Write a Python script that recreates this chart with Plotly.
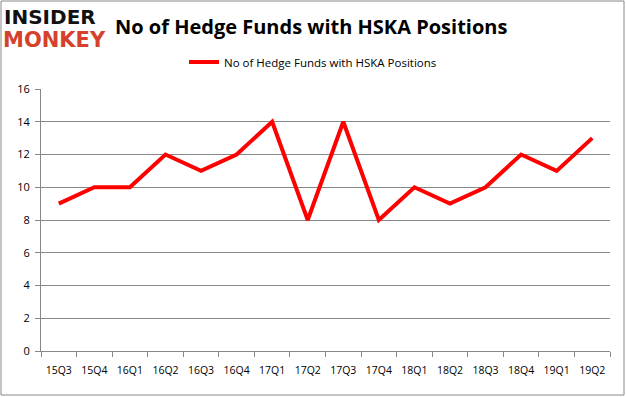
import plotly.graph_objects as go

quarters = ["15Q3", "15Q4", "16Q1", "16Q2", "16Q3", "16Q4", "17Q1", "17Q2",
            "17Q3", "17Q4", "18Q1", "18Q2", "18Q3", "18Q4", "19Q1", "19Q2"]
hedge_funds = [9, 10, 10, 12, 11, 12, 14, 8, 14, 8, 10, 9, 10, 12, 11, 13]
series_name = "No of Hedge Funds with HSKA Positions"
title_text = "No of Hedge Funds with HSKA Positions"

W, H = 626, 397
L, R, T, B = 41, 16, 89, 46
pw, ph = W - L - R, H - T - B

def px_x(x):
    return (x - L) / pw

def px_y(y):
    return (H - B - y) / ph

fig = go.Figure()
fig.add_trace(go.Scatter(
    x=quarters, y=hedge_funds, mode="lines", name=series_name,
    line=dict(color="#ff0000", width=4),
))

fig.update_layout(
    width=W, height=H,
    margin=dict(l=L, r=R, t=T, b=B, autoexpand=False),
    paper_bgcolor="white", plot_bgcolor="white",
    font=dict(family="Open Sans, Liberation Sans, sans-serif", size=11, color="#000"),
    showlegend=True,
    legend=dict(orientation="h", x=px_x(313), xanchor="center", y=px_y(62), yanchor="middle",
                font=dict(size=11.5, color="#000"), bgcolor="rgba(0,0,0,0)"),
    xaxis=dict(
        type="category", showgrid=False, showline=True, linecolor="#888", linewidth=1,
        ticks="outside", tickson="boundaries", ticklen=5, tickcolor="#888",
        tickfont=dict(size=10.5), tickangle=0, range=[-0.5, len(quarters) - 0.5],
        automargin=False, ticklabelstandoff=9,
    ),
    yaxis=dict(
        range=[0, 16], dtick=2, showgrid=True, gridcolor="#888", gridwidth=1,
        showline=True, linecolor="#888", linewidth=1, ticks="outside", ticklen=5,
        tickcolor="#888", tickfont=dict(size=11), zeroline=False, automargin=False,
        ticklabelstandoff=3,
    ),
)

# title
fig.add_annotation(
    x=px_x(113), y=px_y(27), xref="paper", yref="paper", xanchor="left", yanchor="middle",
    text="<b>" + title_text + "</b>", showarrow=False,
    font=dict(family="Open Sans, Liberation Sans, sans-serif", size=20, color="#000"),
)
# logo
fig.add_annotation(
    x=px_x(3), y=px_y(30), xref="paper", yref="paper", xanchor="left", yanchor="bottom",
    text="<b>INSIDER</b>", showarrow=False, borderpad=0,
    font=dict(family="DejaVu Sans", size=20, color="#111"),
)
fig.add_annotation(
    x=px_x(2), y=px_y(27), xref="paper", yref="paper", xanchor="left", yanchor="top",
    text="<b>MONKEY</b>", showarrow=False, borderpad=0,
    font=dict(family="DejaVu Sans", size=21, color="#d5412b"),
)
# outer border
fig.add_shape(type="rect", xref="paper", yref="paper",
              x0=px_x(1), x1=px_x(624), y0=px_y(395), y1=px_y(1),
              line=dict(color="#888", width=1), fillcolor="rgba(0,0,0,0)", layer="below")

fig.write_html("out.html", config={"displayModeBar": False},
               post_script="document.body.style.margin='0';document.body.style.overflow='hidden';")
